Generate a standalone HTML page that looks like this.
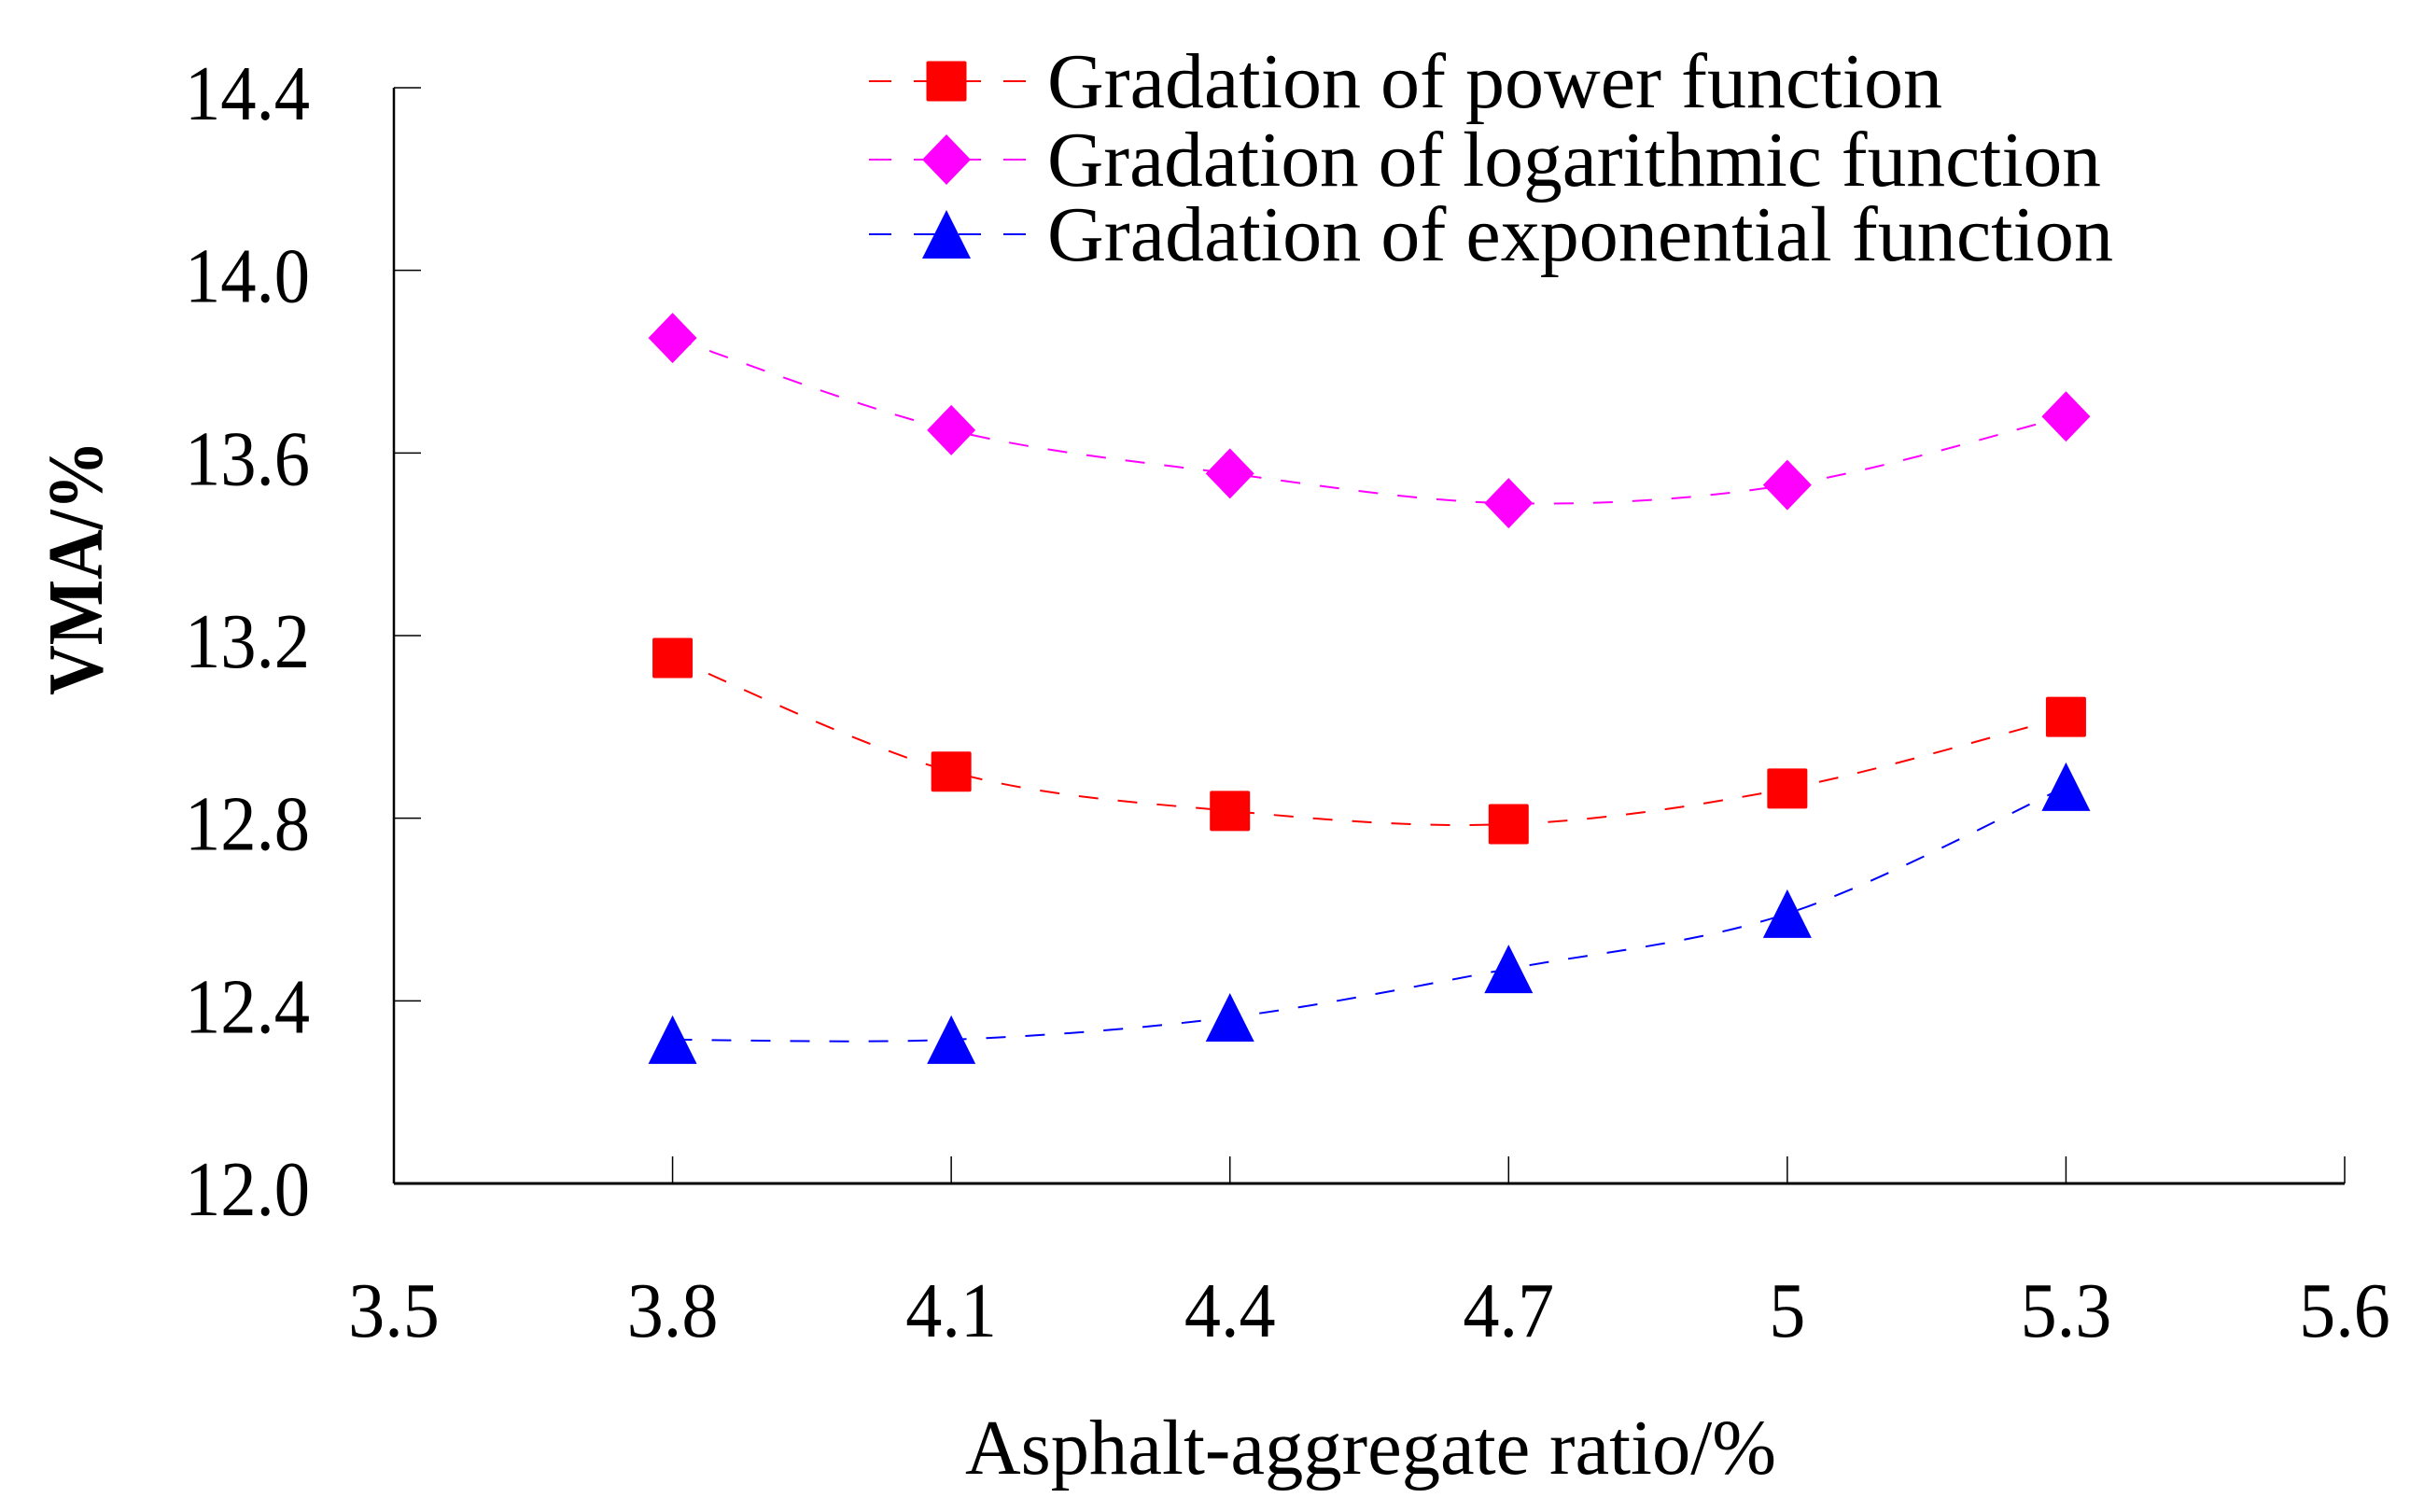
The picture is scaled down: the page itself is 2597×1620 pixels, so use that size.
<!DOCTYPE html>
<html><head><meta charset="utf-8"><style>
html,body{margin:0;padding:0;background:#fff;}
svg{display:block;}
text{font-family:"Liberation Serif","Times New Roman",serif;fill:#000;}
</style></head><body>
<svg id="chart" width="2597" height="1620" viewBox="0 0 2597 1620" xmlns="http://www.w3.org/2000/svg">
<g id="axes"></g>
<g id="series"></g>
<g id="legend"></g>
<text x="1034" y="1579" font-size="84" textLength="869" lengthAdjust="spacingAndGlyphs">Asphalt-aggregate ratio/%</text>
<text transform="translate(109,745) rotate(-90)" x="0" y="0" font-size="84" font-weight="bold" textLength="273" lengthAdjust="spacingAndGlyphs">VMA/%</text>
</svg>
<script>
const categories = [3.8, 4.1, 4.4, 4.7, 5.0, 5.3];
const powerValues = [13.151, 12.902, 12.816, 12.787, 12.865, 13.022];
const logValues = [13.852, 13.65, 13.555, 13.49, 13.53, 13.68];
const expValues = [12.315, 12.315, 12.364, 12.470, 12.591, 12.869];
const xTicks = [3.5, 3.8, 4.1, 4.4, 4.7, 5, 5.3, 5.6];
const xTickLabels = ["3.5","3.8","4.1","4.4","4.7","5","5.3","5.6"];
const yTicks = [12.0, 12.4, 12.8, 13.2, 13.6, 14.0, 14.4];
const yTickLabels = ["12.0","12.4","12.8","13.2","13.6","14.0","14.4"];
const seriesNames = ["Gradation of power function","Gradation of logarithmic function","Gradation of exponential function"];

const NS="http://www.w3.org/2000/svg";
const X0=422, X1=2512, Y0=1268, Y1=94;
function xs(v){return X0+(v-3.5)/(5.6-3.5)*(X1-X0);}
function ys(v){return Y0-(v-12.0)/(14.4-12.0)*(Y0-Y1);}
function mk(tag,attrs,parent){const e=document.createElementNS(NS,tag);for(const k in attrs)e.setAttribute(k,attrs[k]);parent.appendChild(e);return e;}

const axes=document.getElementById('axes');
let e=mk('line',{x1:X0,y1:Y0,x2:X1,y2:Y0,stroke:'#000','stroke-width':3},axes);


e=mk('line',{x1:X0,y1:Y0,x2:X0,y2:Y1,stroke:'#000','stroke-width':2.5},axes);


xTicks.forEach((t,i)=>{
  const x=xs(t);
  const l=mk('line',{x1:x,y1:Y0,x2:x,y2:Y0-29,stroke:'#000','stroke-width':1.5},axes);
  
  
  const tx=mk('text',{x:x,y:1432,'font-size':84,'text-anchor':'middle'},axes);
  tx.textContent=xTickLabels[i];
  
  
  const w=tx.getComputedTextLength();
  if(w>0){tx.setAttribute('textLength',(w*0.93).toFixed(1));tx.setAttribute('lengthAdjust','spacingAndGlyphs');}
});
yTicks.forEach((t,i)=>{
  const y=ys(t);
  const l=mk('line',{x1:X0,y1:y,x2:X0+29,y2:y,stroke:'#000','stroke-width':1.5},axes);
  
  
  const tx=mk('text',{x:332,y:y+34,'font-size':84,'text-anchor':'end',textLength:134,lengthAdjust:'spacingAndGlyphs'},axes);
  tx.textContent=yTickLabels[i];
  
  
});

function smoothPath(pts){
  let d='M'+pts[0][0]+','+pts[0][1];
  for(let i=0;i<pts.length-1;i++){
    const p0=pts[Math.max(i-1,0)],p1=pts[i],p2=pts[i+1],p3=pts[Math.min(i+2,pts.length-1)];
    const c1=[p1[0]+(p2[0]-p0[0])/6,p1[1]+(p2[1]-p0[1])/6];
    const c2=[p2[0]-(p3[0]-p1[0])/6,p2[1]-(p3[1]-p1[1])/6];
    d+=' C'+c1[0]+','+c1[1]+' '+c2[0]+','+c2[1]+' '+p2[0]+','+p2[1];
  }
  return d;
}
function marker(type,x,y,color,parent){
  let m;
  if(type==='square') m=mk('rect',{x:x-21.5,y:y-21.5,width:43,height:43,rx:2,fill:color},parent);
  else if(type==='diamond') m=mk('polygon',{points:`${x},${y-27} ${x+26},${y} ${x},${y+27} ${x-26},${y}`,fill:color},parent);
  else m=mk('polygon',{points:`${x},${y-26} ${x+26},${y+26} ${x-26},${y+26}`,fill:color},parent);
  return m;
}
const series=document.getElementById('series');
const defs=[[powerValues,'#ff0000','square','power'],[logValues,'#ff00ff','diamond','logarithmic'],[expValues,'#0000ff','triangle','exponential']];
defs.forEach(([vals,color,type,key])=>{
  const g=mk('g',{},series);
  
  
  const pts=categories.map((c,i)=>[xs(c),ys(vals[i])]);
  const p=mk('path',{d:smoothPath(pts),fill:'none',stroke:color,'stroke-width':2,'stroke-dasharray':'21 21'},g);
  
  
  pts.forEach(pt=>{
    const m=marker(type,pt[0],pt[1],color,g);
    
    
  });
});

const legend=document.getElementById('legend');
const rowY=[87,171,251];
const textW=[959,1129,1142];
defs.forEach(([vals,color,type,key],i)=>{
  const g=mk('g',{},legend);
  
  
  const y=rowY[i];
  const l=mk('line',{x1:931,y1:y,x2:1099,y2:y,stroke:color,'stroke-width':2,'stroke-dasharray':'24 24'},g);
  
  
  const m=marker(type,1014,y,color,g);
  
  
  const t=mk('text',{x:1122,y:y+28,'font-size':84,textLength:textW[i],lengthAdjust:'spacingAndGlyphs'},g);
  t.textContent=seriesNames[i];
  
  
});
</script>
</body></html>
